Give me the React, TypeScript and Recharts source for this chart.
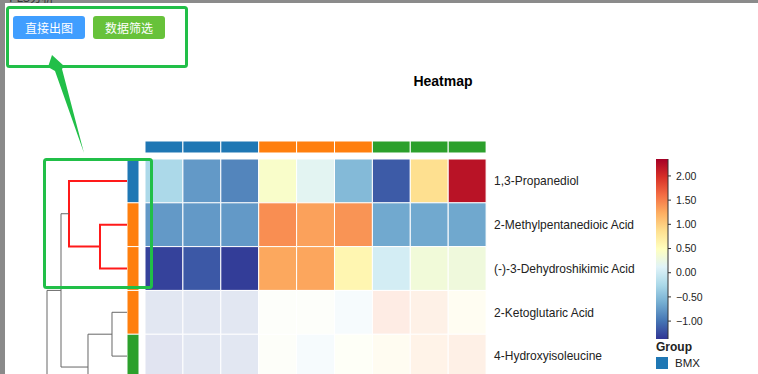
import { BarChart, Bar, XAxis, YAxis, Cell, ScatterChart, Scatter } from "recharts";

// metabolite rows (top to bottom) and their group index
const rowNames = [
  "1,3-Propanediol",
  "2-Methylpentanedioic Acid",
  "(-)-3-Dehydroshikimic Acid",
  "2-Ketoglutaric Acid",
  "4-Hydroxyisoleucine",
];
const rowGroups = [0, 1, 1, 1, 2];

// sample columns, 3 per group
const colGroups = [0, 0, 0, 1, 1, 1, 2, 2, 2];

// z-scores
const values = [
  [-0.25, -0.76, -0.89, 0.42, 0.16, -0.52, -1.15, 0.86, 2.2],
  [-0.76, -0.76, -0.76, 1.42, 1.31, 1.38, -0.65, -0.65, -0.66],
  [-1.3, -1.17, -1.33, 1.27, 1.28, 0.6, 0.03, 0.32, 0.3],
  [-1.15, -1.15, -1.15, 0.3, 0.3, -0.07, 1.49, 1.31, 0.68],
  [-1.26, -1.15, -1.15, 0.34, -0.07, 0.42, 0.75, 1.23, 1.35],
];

// rows inside the selected (red) cluster
const highlightRows = [0, 1, 2];

const groupColors = ["#1f77b4", "#ff7f0e", "#2ca02c"];
const groupNames = ["BMX"];

const scaleMin = -1.37;
const scaleMax = 2.35;
const legendTicks = [-1, -0.5, 0, 0.5, 1, 1.5, 2];

// RdYlBu, low -> high
const palette = [
  "#313695", "#4575b4", "#74add1", "#abd9e9", "#e0f3f8", "#ffffbf",
  "#fee090", "#fdae61", "#f46d43", "#d73027", "#a50026",
];

// dendrogram: leaf = row position, merges with height
// r5 / rest sit below the visible part of the page
const leafPos: Record<string, number> = { r0: 0, r1: 1, r2: 2, r3: 3, r4: 4, r5: 5, rest: 7 };
const merges = [
  { id: "m1", a: "r1", b: "r2", h: 2.7, red: true },
  { id: "m2", a: "r0", b: "m1", h: 5.8, red: true },
  { id: "m3", a: "r3", b: "r4", h: 1.5, red: false },
  { id: "m4", a: "m3", b: "r5", h: 3.9, red: false },
  { id: "m5", a: "m2", b: "m4", h: 6.6, red: false },
  { id: "m6", a: "m5", b: "rest", h: 8.0, red: false },
];
const leafHeight: Record<string, number> = { rest: 7.0 };

const hexToRgb = (h: string) => [1, 3, 5].map(i => parseInt(h.slice(i, i + 2), 16));
const colorOf = (v: number) => {
  let t = (v - scaleMin) / (scaleMax - scaleMin);
  t = Math.max(0, Math.min(1, t));
  const s = t * (palette.length - 1);
  const i = Math.min(Math.floor(s), palette.length - 2);
  const f = s - i;
  const a = hexToRgb(palette[i]);
  const b = hexToRgb(palette[i + 1]);
  const c = a.map((x, k) => Math.round(x + (b[k] - x) * f));
  return `rgb(${c[0]},${c[1]},${c[2]})`;
};

const ROW_H = 43.8;
const COL_W = 37.9;
const FONT = "'Liberation Sans', Arial, sans-serif";
const GREEN = "#21bf48";

const heatData = rowNames.map((name, i) => {
  const row: Record<string, any> = { name };
  colGroups.forEach((_, j) => (row[`c${j}`] = 1));
  return row;
});
const headerData = [heatData[0]];
const rowBarData = rowNames.map(name => ({ name, v: 1 }));
const legendData = [{ name: "scale", range: [scaleMin, scaleMax] }];

// node positions for the dendrogram
const nodes: Record<string, { h: number; y: number }> = {};
Object.keys(leafPos).forEach(k => (nodes[k] = { h: leafHeight[k] ?? 0, y: leafPos[k] + 0.5 }));
const links = merges.map(m => {
  const A = nodes[m.a];
  const B = nodes[m.b];
  nodes[m.id] = { h: m.h, y: (A.y + B.y) / 2 };
  return {
    id: m.id,
    red: m.red,
    points: [
      { h: A.h, y: A.y },
      { h: m.h, y: A.y },
      { h: m.h, y: B.y },
      { h: B.h, y: B.y },
    ],
  };
});

const NoDot = () => <g />;
const fmt = (v: number) => v.toFixed(2).replace("-", "\u2212");

const RowTick = (props: any) => {
  const { x, y, payload } = props;
  return (
    <text x={x} y={y} dy="0.355em" fontSize={12} fill="#222" fontFamily={FONT}>
      {payload.value}
    </text>
  );
};

const abs = (left: number, top: number) => ({ position: "absolute" as const, left, top });

const btn = (bg: string) => ({
  position: "absolute" as const,
  top: 16,
  width: 72,
  height: 23,
  background: bg,
  color: "#fff",
  borderRadius: 3,
  fontSize: 12,
  lineHeight: "23px",
  textAlign: "center" as const,
  fontFamily: "'Noto Sans CJK SC', sans-serif",
});

export default function App() {
  return (
    <div style={{ position: "fixed", left: 0, top: 0, width: 758, height: 374, overflow: "hidden", background: "#fff" }}>
      <svg width={0} height={0} style={{ position: "absolute" }}>
        <defs>
          <linearGradient id="heatGrad" x1="0" y1="1" x2="0" y2="0">
            {palette.map((c, i) => (
              <stop key={i} offset={i / (palette.length - 1)} stopColor={c} />
            ))}
          </linearGradient>
        </defs>
      </svg>

      {/* page chrome */}
      <div style={{ position: "absolute", left: 0, top: 0, width: 758, height: 3, background: "#8b8b8b", overflow: "hidden" }}>
        <span style={{ position: "absolute", left: 9, top: -12, fontSize: 12, color: "#333", fontFamily: "'Noto Sans CJK SC', sans-serif" }}>PLS分析</span>
      </div>
      <div style={{ position: "absolute", left: 0, top: 0, width: 5, height: 374, background: "#8a8a8a" }} />

      <div style={{ ...btn("#409eff"), left: 13 }}>直接出图</div>
      <div style={{ ...btn("#67c23a"), left: 93 }}>数据筛选</div>

      {/* dendrogram */}
      <div style={abs(7, 159)}>
        <ScatterChart width={120} height={ROW_H * 8} margin={{ top: 0, right: 0, bottom: 0, left: 0 }}>
          <XAxis type="number" dataKey="h" domain={[0, 12]} reversed hide />
          <YAxis type="number" dataKey="y" domain={[0, 8]} reversed hide />
          {links.map(l => (
            <Scatter
              key={l.id}
              data={l.points}
              line={{ stroke: l.red ? "#ff1a1a" : "#666", strokeWidth: l.red ? 2 : 1 }}
              shape={NoDot}
              legendType="none"
              isAnimationActive={false}
            />
          ))}
        </ScatterChart>
      </div>

      {/* row group bar */}
      <div style={abs(127, 159)}>
        <BarChart layout="vertical" width={12} height={ROW_H * rowNames.length} data={rowBarData}
          margin={{ top: 0, right: 0, bottom: 0, left: 0 }} barCategoryGap={0}>
          <XAxis type="number" domain={[0, 1]} hide />
          <YAxis type="category" dataKey="name" hide />
          <Bar dataKey="v" stroke="#fff" strokeWidth={1} isAnimationActive={false}>
            {rowGroups.map((g, i) => <Cell key={i} fill={groupColors[g]} />)}
          </Bar>
        </BarChart>
      </div>

      {/* column group bar */}
      <div style={abs(145, 141)}>
        <BarChart layout="vertical" width={COL_W * colGroups.length} height={12} data={headerData}
          margin={{ top: 0, right: 0, bottom: 0, left: 0 }} barCategoryGap={0}>
          <XAxis type="number" domain={[0, colGroups.length]} hide />
          <YAxis type="category" dataKey="name" hide />
          {colGroups.map((g, j) => (
            <Bar key={j} dataKey={`c${j}`} stackId="h" fill={groupColors[g]} stroke="#fff" strokeWidth={1} isAnimationActive={false} />
          ))}
        </BarChart>
      </div>

      {/* heatmap cells + row labels */}
      <div style={abs(145, 159)}>
        <BarChart layout="vertical" width={COL_W * colGroups.length + 170} height={ROW_H * rowNames.length} data={heatData}
          margin={{ top: 0, right: 0, bottom: 0, left: 0 }} barCategoryGap={0}>
          <XAxis type="number" domain={[0, colGroups.length]} hide />
          <YAxis type="category" dataKey="name" orientation="right" width={170} axisLine={false} tickLine={false}
            tick={RowTick} interval={0} />
          {colGroups.map((_, j) => (
            <Bar key={j} dataKey={`c${j}`} stackId="a" stroke="#fff" strokeWidth={1} isAnimationActive={false}>
              {values.map((row, i) => (
                <Cell key={i} fill={colorOf(row[j])} fillOpacity={highlightRows.includes(i) ? 1 : 0.15} />
              ))}
            </Bar>
          ))}
        </BarChart>
      </div>

      {/* colour scale */}
      <div style={abs(656, 159)}>
        <BarChart width={60} height={180} data={legendData} margin={{ top: 0, right: 0, bottom: 0, left: 0 }} barCategoryGap={0}>
          <XAxis type="category" dataKey="name" hide />
          <YAxis type="number" orientation="right" width={48} domain={[scaleMin, scaleMax]} ticks={legendTicks}
            tickFormatter={fmt} tickSize={3} tickMargin={5} stroke="#333" allowDataOverflow
            tick={{ fontSize: 10.5, fill: "#222", fontFamily: FONT }} />
          <Bar dataKey="range" fill="url(#heatGrad)" isAnimationActive={false} />
        </BarChart>
      </div>

      {/* titles, legend text, annotations */}
      <svg width={758} height={374} style={{ position: "absolute", left: 0, top: 0, pointerEvents: "none" }}>
        <text x={443} y={86} textAnchor="middle" fontSize={14} fontWeight="bold" fontFamily={FONT} fill="#000">Heatmap</text>
        <text x={656} y={351} fontSize={12} fontWeight="bold" fontFamily={FONT} fill="#222">Group</text>
        {groupNames.map((n, i) => (
          <g key={n}>
            <rect x={656} y={357 + i * 18} width={12} height={12} fill={groupColors[i]} />
            <text x={675} y={367 + i * 18} fontSize={11.5} fontFamily={FONT} fill="#222">{n}</text>
          </g>
        ))}
        <rect x={7.5} y={7.5} width={179} height={59} rx={2} fill="none" stroke={GREEN} strokeWidth={3} />
        <rect x={44.5} y={159.5} width={107} height={128} rx={2} fill="none" stroke={GREEN} strokeWidth={3} />
        <polygon points="52,55 64,66 62,69 84,153 55,71 48,67" fill={GREEN} />
      </svg>
    </div>
  );
}
